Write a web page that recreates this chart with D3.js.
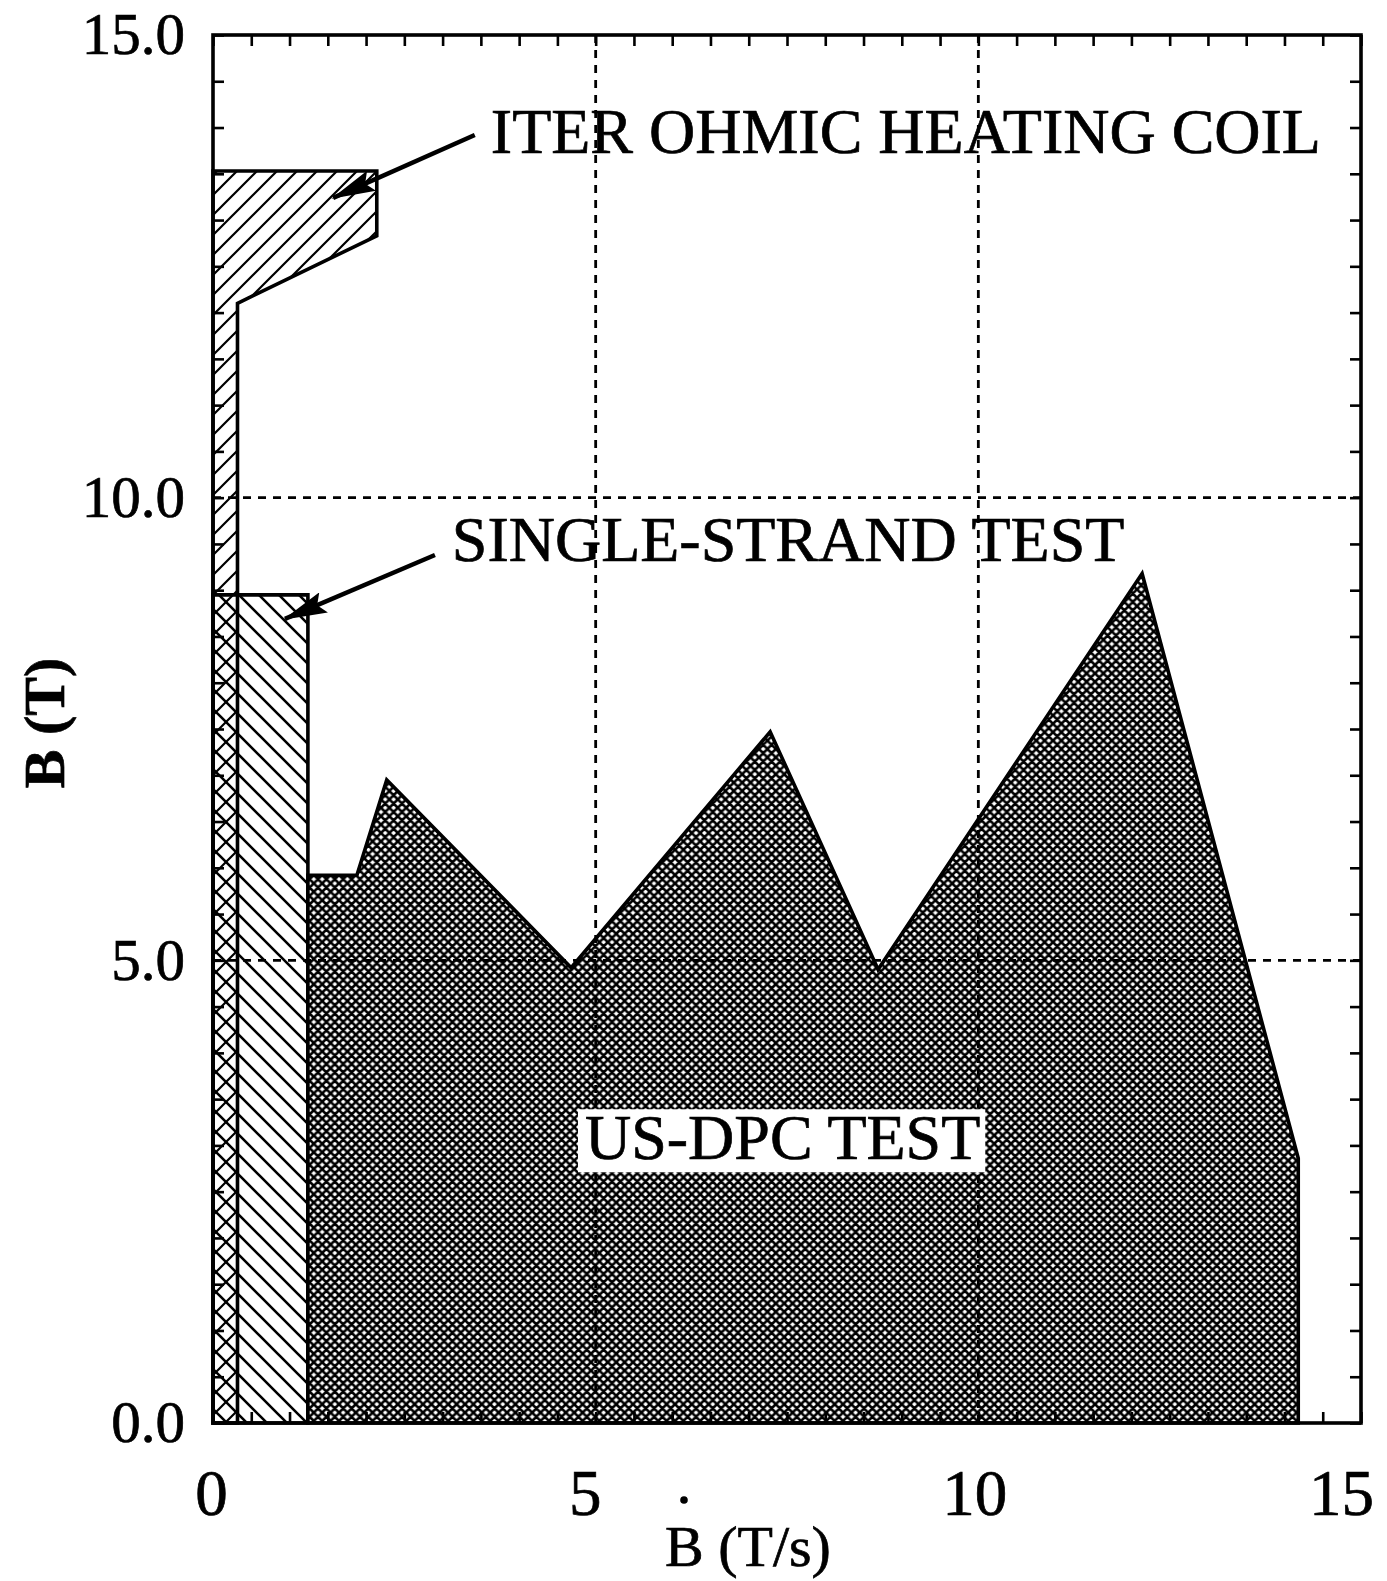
<!DOCTYPE html>
<html>
<head>
<meta charset="utf-8">
<script src="https://cdn.jsdelivr.net/npm/d3@7"></script>
<style>
  html, body { margin: 0; padding: 0; background: #fff; }
  svg { display: block; }
  text { font-family: "Liberation Serif", "Times New Roman", serif; fill: #000; stroke: #000; stroke-width: 0.7px; }
</style>
</head>
<body>
<svg id="chart" width="1387" height="1581"></svg>
<script>
// ---------- data ----------
const xTickValues = [0, 5, 10, 15];
const xTickLabels = ["0", "5", "10", "15"];
const yTickValues = [0, 5, 10, 15];
const yTickLabels = ["0.0", "5.0", "10.0", "15.0"];
const gridValues = [5, 10];

// ITER ohmic heating coil region (Bdot, B)
const iterCoilX = [0, 0, 2.14, 2.14, 0.32, 0.32];
const iterCoilB = [0, 13.53, 13.53, 12.83, 12.10, 0];

// Single-strand test region
const singleStrandX = [0, 0, 1.24, 1.24];
const singleStrandB = [0, 8.95, 8.95, 0];

// US-DPC test region
const usdpcX = [1.24, 1.24, 1.88, 2.27, 4.68, 7.28, 8.69, 12.14, 14.18, 14.18];
const usdpcB = [0, 5.92, 5.92, 6.95, 4.92, 7.47, 4.90, 9.18, 2.86, 0];

// annotations (data units)
const labelTexts = ["ITER OHMIC HEATING COIL", "SINGLE-STRAND TEST", "US-DPC TEST"];
const labelX = [3.63, 3.12, 4.86];
const labelB = [13.73, 9.32, 2.85];
const arrowFromX = [3.42, 2.90];
const arrowFromB = [13.92, 9.38];
const arrowToX = [1.57, 0.94];
const arrowToB = [13.24, 8.69];

// ---------- layout ----------
const margin = { left: 213, top: 35, right: 1387 - 1361, bottom: 1581 - 1423 };
const W = 1387 - margin.left - margin.right;
const H = 1581 - margin.top - margin.bottom;

const svg = d3.select("#chart");
const x = d3.scaleLinear().domain([0, 15]).range([0, W]);
const y = d3.scaleLinear().domain([0, 15]).range([H, 0]);

const defs = svg.append("defs");
// dense crosshatch
const s = 8.4;
const pDense = defs.append("pattern").attr("id", "dense")
  .attr("patternUnits", "userSpaceOnUse").attr("width", s).attr("height", s);
pDense.append("rect").attr("width", s).attr("height", s).attr("fill", "#fff");
pDense.append("path")
  .attr("d", `M0,0L${s},${s}M${s},0L0,${s}M${-s/4},${s/4}L${s/4},${-s/4}M${s-s/4},${s+s/4}L${s+s/4},${s-s/4}M${-s/4},${s-s/4}L${s/4},${s+s/4}M${s-s/4},${-s/4}L${s+s/4},${s/4}`)
  .attr("stroke", "#000").attr("stroke-width", 2.6);

// forward hatch ///
const h = 20;
const pFwd = defs.append("pattern").attr("id", "fwd")
  .attr("patternUnits", "userSpaceOnUse").attr("width", h).attr("height", h);
pFwd.append("path")
  .attr("d", `M-5,5l10,-10M0,${h}l${h},${-h}M${h-5},${h+5}l10,-10`)
  .attr("stroke", "#000").attr("stroke-width", 2.2);

// back hatch \\\
const pBack = defs.append("pattern").attr("id", "back")
  .attr("patternUnits", "userSpaceOnUse").attr("width", h).attr("height", h)
  .attr("patternTransform", "translate(6,0)");
pBack.append("path")
  .attr("d", `M-5,${h-5}l10,10M0,0l${h},${h}M${h-5},-5l10,10`)
  .attr("stroke", "#000").attr("stroke-width", 2.6);

// arrowhead
defs.append("marker").attr("id", "arrow")
  .attr("viewBox", "0 0 44 22").attr("refX", 42).attr("refY", 11)
  .attr("markerWidth", 44).attr("markerHeight", 22)
  .attr("markerUnits", "userSpaceOnUse").attr("orient", "auto")
  .append("path").attr("d", "M0,0L44,11L0,22L7,11Z").attr("fill", "#000");

const g = svg.append("g").attr("transform", `translate(${margin.left},${margin.top})`);

const toPts = (xs, bs) => xs.map((v, i) => [x(v), y(bs[i])]);
const line = d3.line();

// ITER coil
g.append("path").attr("d", line(toPts(iterCoilX, iterCoilB)) + "Z")
  .attr("fill", "url(#fwd)").attr("stroke", "#000").attr("stroke-width", 3.6)
  .attr("stroke-linejoin", "miter");
// Single strand
g.append("path").attr("d", line(toPts(singleStrandX, singleStrandB)) + "Z")
  .attr("fill", "url(#back)").attr("stroke", "#000").attr("stroke-width", 3.6);
// US-DPC
g.append("path").attr("d", line(toPts(usdpcX, usdpcB)) + "Z")
  .attr("fill", "url(#dense)").attr("stroke", "#000").attr("stroke-width", 3.6)
  .attr("stroke-linejoin", "miter");

// grid
const grid = g.append("g").attr("stroke", "#000").attr("stroke-width", 2.8)
  .attr("stroke-dasharray", "8,7");
grid.selectAll(".gx").data(gridValues).join("line")
  .attr("x1", d => x(d)).attr("x2", d => x(d)).attr("y1", 0).attr("y2", H);
grid.selectAll(".gy").data(gridValues).join("line")
  .attr("y1", d => y(d)).attr("y2", d => y(d)).attr("x1", 0).attr("x2", W);

// frame axes with inward minor ticks
const minor = d3.range(0, 15.001, 0.5);
const tk = 11;
function frame(axis, transform) {
  const a = g.append("g").attr("transform", transform)
    .call(axis.tickValues(minor).tickSize(-tk).tickFormat(""));
  a.select(".domain").remove();
  a.selectAll(".tick line").attr("stroke", "#000").attr("stroke-width", 2.6);
}
frame(d3.axisBottom(x), `translate(0,${H})`);
frame(d3.axisTop(x), `translate(0,0)`);
frame(d3.axisLeft(y), `translate(0,0)`);
frame(d3.axisRight(y), `translate(${W},0)`);
g.append("rect").attr("width", W).attr("height", H)
  .attr("fill", "none").attr("stroke", "#000").attr("stroke-width", 3.6);

// tick labels
const xLabShift = [-2, -11, -4, -20];
const xl = g.append("g").attr("transform", `translate(0,${H})`)
  .call(d3.axisBottom(x).tickValues(xTickValues).tickSize(0).tickPadding(46)
    .tickFormat((d, i) => xTickLabels[i]));
xl.select(".domain").remove();
xl.selectAll("text").attr("font-size", 65)
  .attr("font-family", '"Liberation Serif", "Times New Roman", serif')
  .attr("dx", (d, i) => xLabShift[i]);

const yl = g.append("g")
  .call(d3.axisLeft(y).tickValues(yTickValues).tickSize(0).tickPadding(28)
    .tickFormat((d, i) => yTickLabels[i]));
yl.select(".domain").remove();
yl.selectAll("text").attr("font-size", 59)
  .attr("font-family", '"Liberation Serif", "Times New Roman", serif');

// axis titles
svg.append("text").attr("transform", "translate(44,723) rotate(-90)")
  .attr("text-anchor", "middle").attr("dy", "0.34em")
  .attr("font-size", 58).attr("font-weight", "bold").text("B (T)");
svg.append("text").attr("x", 665).attr("y", 1566)
  .attr("font-size", 58).text("B (T/s)");
svg.append("circle").attr("cx", 684).attr("cy", 1500).attr("r", 3.8).attr("fill", "#000");

// annotations
labelTexts.forEach((t, i) => {
  const tx = g.append("text").attr("x", x(labelX[i])).attr("y", y(labelB[i]))
    .attr("font-size", 64).text(t);
  if (i === 2) {
    const bb = tx.node().getBBox();
    g.insert("rect", () => tx.node())
      .attr("x", bb.x - 7).attr("y", y(labelB[i]) - 50)
      .attr("width", bb.width + 12).attr("height", 63).attr("fill", "#fff");
  }
});
arrowFromX.forEach((v, i) => {
  g.append("line").attr("x1", x(v)).attr("y1", y(arrowFromB[i]))
    .attr("x2", x(arrowToX[i])).attr("y2", y(arrowToB[i]))
    .attr("stroke", "#000").attr("stroke-width", 4.5)
    .attr("marker-end", "url(#arrow)");
});
</script>
</body>
</html>
